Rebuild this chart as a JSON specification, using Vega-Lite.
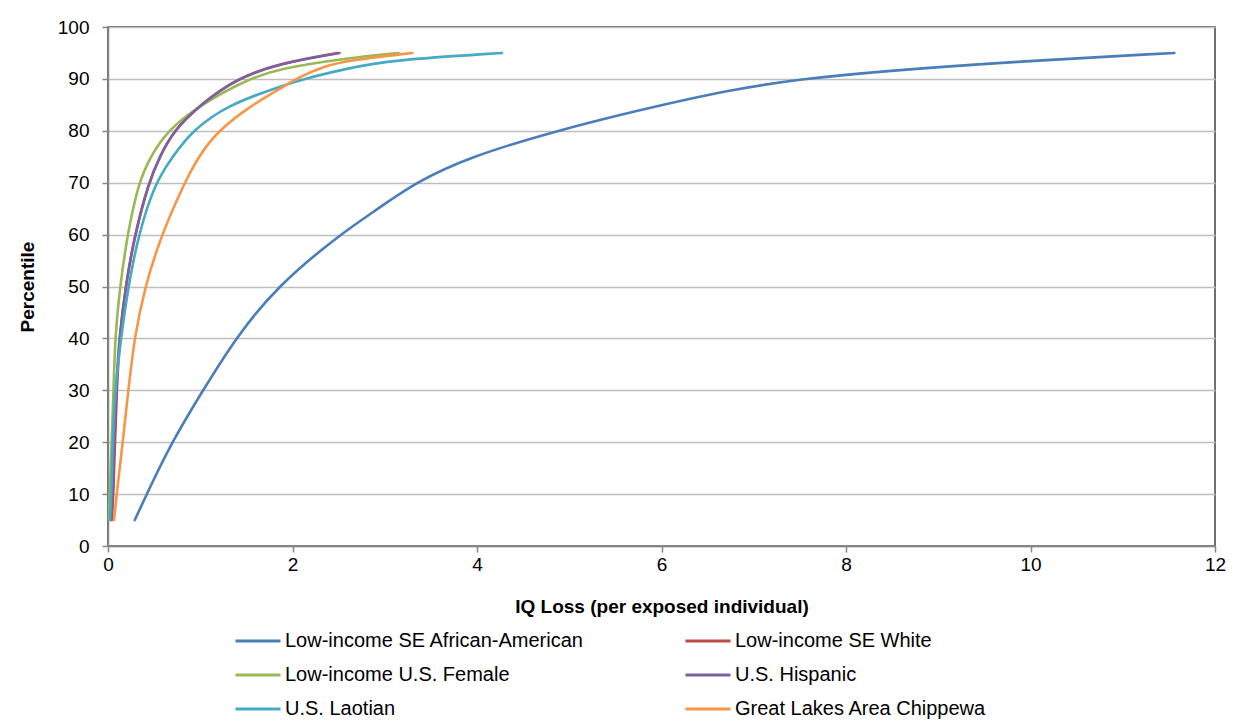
{
  "$schema": "https://vega.github.io/schema/vega-lite/v6.json",
  "width": 1107,
  "height": 519,
  "autosize": {"type": "none"},
  "padding": {"left": 108, "top": 27, "right": 33, "bottom": 181},
  "background": "white",
  "config": {
    "font": "Liberation Sans",
    "view": {"stroke": "#404040", "strokeWidth": 1.5},
    "axis": {"labelFont": "Liberation Sans", "titleFont": "Liberation Sans"}
  },
  "datasets": {
    "curves": [
      {"group": "Low-income SE African-American", "pct": 5, "iq": 0.29},
      {"group": "Low-income SE African-American", "pct": 10, "iq": 0.42},
      {"group": "Low-income SE African-American", "pct": 20, "iq": 0.69},
      {"group": "Low-income SE African-American", "pct": 30, "iq": 1.03},
      {"group": "Low-income SE African-American", "pct": 40, "iq": 1.38},
      {"group": "Low-income SE African-American", "pct": 50, "iq": 1.83},
      {"group": "Low-income SE African-American", "pct": 60, "iq": 2.51},
      {"group": "Low-income SE African-American", "pct": 65, "iq": 2.93},
      {"group": "Low-income SE African-American", "pct": 70, "iq": 3.33},
      {"group": "Low-income SE African-American", "pct": 75, "iq": 3.92},
      {"group": "Low-income SE African-American", "pct": 80, "iq": 4.86},
      {"group": "Low-income SE African-American", "pct": 84, "iq": 5.76},
      {"group": "Low-income SE African-American", "pct": 88, "iq": 6.76},
      {"group": "Low-income SE African-American", "pct": 90, "iq": 7.53},
      {"group": "Low-income SE African-American", "pct": 91.5, "iq": 8.4},
      {"group": "Low-income SE African-American", "pct": 93.3, "iq": 9.8},
      {"group": "Low-income SE African-American", "pct": 95, "iq": 11.56},

      {"group": "Low-income SE White", "pct": 5, "iq": 0.04},
      {"group": "Low-income SE White", "pct": 10, "iq": 0.06},
      {"group": "Low-income SE White", "pct": 20, "iq": 0.075},
      {"group": "Low-income SE White", "pct": 30, "iq": 0.095},
      {"group": "Low-income SE White", "pct": 40, "iq": 0.125},
      {"group": "Low-income SE White", "pct": 50, "iq": 0.19},
      {"group": "Low-income SE White", "pct": 60, "iq": 0.29},
      {"group": "Low-income SE White", "pct": 70, "iq": 0.44},
      {"group": "Low-income SE White", "pct": 75, "iq": 0.56},
      {"group": "Low-income SE White", "pct": 80, "iq": 0.71},
      {"group": "Low-income SE White", "pct": 85, "iq": 1.0},
      {"group": "Low-income SE White", "pct": 90, "iq": 1.38},
      {"group": "Low-income SE White", "pct": 93, "iq": 1.85},
      {"group": "Low-income SE White", "pct": 95, "iq": 2.49},

      {"group": "Low-income U.S. Female", "pct": 5, "iq": 0.01},
      {"group": "Low-income U.S. Female", "pct": 10, "iq": 0.02},
      {"group": "Low-income U.S. Female", "pct": 20, "iq": 0.04},
      {"group": "Low-income U.S. Female", "pct": 30, "iq": 0.06},
      {"group": "Low-income U.S. Female", "pct": 40, "iq": 0.076},
      {"group": "Low-income U.S. Female", "pct": 50, "iq": 0.13},
      {"group": "Low-income U.S. Female", "pct": 60, "iq": 0.21},
      {"group": "Low-income U.S. Female", "pct": 70, "iq": 0.33},
      {"group": "Low-income U.S. Female", "pct": 75, "iq": 0.46},
      {"group": "Low-income U.S. Female", "pct": 80, "iq": 0.64},
      {"group": "Low-income U.S. Female", "pct": 85, "iq": 1.0},
      {"group": "Low-income U.S. Female", "pct": 90, "iq": 1.52},
      {"group": "Low-income U.S. Female", "pct": 92, "iq": 1.86},
      {"group": "Low-income U.S. Female", "pct": 94, "iq": 2.59},
      {"group": "Low-income U.S. Female", "pct": 95, "iq": 3.15},

      {"group": "U.S. Hispanic", "pct": 5, "iq": 0.03},
      {"group": "U.S. Hispanic", "pct": 10, "iq": 0.05},
      {"group": "U.S. Hispanic", "pct": 20, "iq": 0.065},
      {"group": "U.S. Hispanic", "pct": 30, "iq": 0.087},
      {"group": "U.S. Hispanic", "pct": 40, "iq": 0.12},
      {"group": "U.S. Hispanic", "pct": 50, "iq": 0.19},
      {"group": "U.S. Hispanic", "pct": 60, "iq": 0.29},
      {"group": "U.S. Hispanic", "pct": 70, "iq": 0.44},
      {"group": "U.S. Hispanic", "pct": 75, "iq": 0.56},
      {"group": "U.S. Hispanic", "pct": 80, "iq": 0.71},
      {"group": "U.S. Hispanic", "pct": 85, "iq": 1.0},
      {"group": "U.S. Hispanic", "pct": 90, "iq": 1.39},
      {"group": "U.S. Hispanic", "pct": 93, "iq": 1.86},
      {"group": "U.S. Hispanic", "pct": 95, "iq": 2.51},

      {"group": "U.S. Laotian", "pct": 5, "iq": 0.02},
      {"group": "U.S. Laotian", "pct": 10, "iq": 0.035},
      {"group": "U.S. Laotian", "pct": 20, "iq": 0.05},
      {"group": "U.S. Laotian", "pct": 30, "iq": 0.075},
      {"group": "U.S. Laotian", "pct": 40, "iq": 0.14},
      {"group": "U.S. Laotian", "pct": 50, "iq": 0.22},
      {"group": "U.S. Laotian", "pct": 60, "iq": 0.33},
      {"group": "U.S. Laotian", "pct": 70, "iq": 0.51},
      {"group": "U.S. Laotian", "pct": 75, "iq": 0.7},
      {"group": "U.S. Laotian", "pct": 80, "iq": 0.91},
      {"group": "U.S. Laotian", "pct": 85, "iq": 1.3},
      {"group": "U.S. Laotian", "pct": 88.5, "iq": 1.86},
      {"group": "U.S. Laotian", "pct": 90, "iq": 2.12},
      {"group": "U.S. Laotian", "pct": 92, "iq": 2.59},
      {"group": "U.S. Laotian", "pct": 93.6, "iq": 3.06},
      {"group": "U.S. Laotian", "pct": 95, "iq": 4.27},

      {"group": "Great Lakes Area Chippewa", "pct": 5, "iq": 0.065},
      {"group": "Great Lakes Area Chippewa", "pct": 10, "iq": 0.094},
      {"group": "Great Lakes Area Chippewa", "pct": 20, "iq": 0.16},
      {"group": "Great Lakes Area Chippewa", "pct": 30, "iq": 0.22},
      {"group": "Great Lakes Area Chippewa", "pct": 40, "iq": 0.285},
      {"group": "Great Lakes Area Chippewa", "pct": 50, "iq": 0.4},
      {"group": "Great Lakes Area Chippewa", "pct": 60, "iq": 0.58},
      {"group": "Great Lakes Area Chippewa", "pct": 70, "iq": 0.83},
      {"group": "Great Lakes Area Chippewa", "pct": 75, "iq": 0.98},
      {"group": "Great Lakes Area Chippewa", "pct": 80, "iq": 1.19},
      {"group": "Great Lakes Area Chippewa", "pct": 85, "iq": 1.56},
      {"group": "Great Lakes Area Chippewa", "pct": 88, "iq": 1.86},
      {"group": "Great Lakes Area Chippewa", "pct": 90, "iq": 2.03},
      {"group": "Great Lakes Area Chippewa", "pct": 92.4, "iq": 2.33},
      {"group": "Great Lakes Area Chippewa", "pct": 93.6, "iq": 2.62},
      {"group": "Great Lakes Area Chippewa", "pct": 95, "iq": 3.3}
    ]
  },
  "data": {"name": "curves"},
  "mark": {"type": "line", "interpolate": "basis", "strokeWidth": 2.6, "strokeCap": "round"},
  "encoding": {
    "x": {
      "field": "iq", "type": "quantitative",
      "scale": {"domain": [0, 12], "nice": false, "zero": true},
      "axis": {
        "title": "IQ Loss (per exposed individual)",
        "values": [0, 2, 4, 6, 8, 10, 12],
        "grid": false,
        "domainColor": "#868686", "domainWidth": 1.5,
        "tickColor": "#868686", "tickSize": 6, "tickWidth": 1.5,
        "labelFontSize": 19, "labelColor": "#000000", "labelPadding": 3,
        "labelFlush": false,
        "titleFontSize": 19, "titleFontWeight": "bold", "titleColor": "#000000",
        "titlePadding": 23
      }
    },
    "y": {
      "field": "pct", "type": "quantitative",
      "scale": {"domain": [0, 100], "nice": false},
      "axis": {
        "title": "Percentile",
        "values": [0, 10, 20, 30, 40, 50, 60, 70, 80, 90, 100],
        "grid": true, "gridColor": "#BEBEBE", "gridWidth": 1.5,
        "domainColor": "#868686", "domainWidth": 1.5,
        "tickColor": "#868686", "tickSize": 6, "tickWidth": 1.5,
        "labelFontSize": 19, "labelColor": "#000000", "labelPadding": 13,
        "titleFontSize": 19, "titleFontWeight": "bold", "titleColor": "#000000",
        "titlePadding": 20
      }
    },
    "color": {
      "field": "group", "type": "nominal",
      "scale": {
        "domain": ["Low-income SE African-American", "Low-income SE White", "Low-income U.S. Female", "U.S. Hispanic", "U.S. Laotian", "Great Lakes Area Chippewa"],
        "range": ["#4A7EBB", "#BE4B48", "#98B954", "#7D60A0", "#46AAC5", "#F79646"]
      },
      "legend": {
        "title": null,
        "orient": "none",
        "legendX": 126,
        "legendY": 590,
        "direction": "horizontal",
        "columns": 2,
        "columnPadding": 95,
        "rowPadding": 0,
        "symbolType": "stroke",
        "symbolSize": 2025,
        "symbolStrokeWidth": 3,
        "labelFontSize": 20,
        "labelColor": "#000000",
        "labelOffset": 3,
        "labelLimit": 400
      }
    },
    "order": {"field": "pct", "type": "quantitative"}
  }
}
